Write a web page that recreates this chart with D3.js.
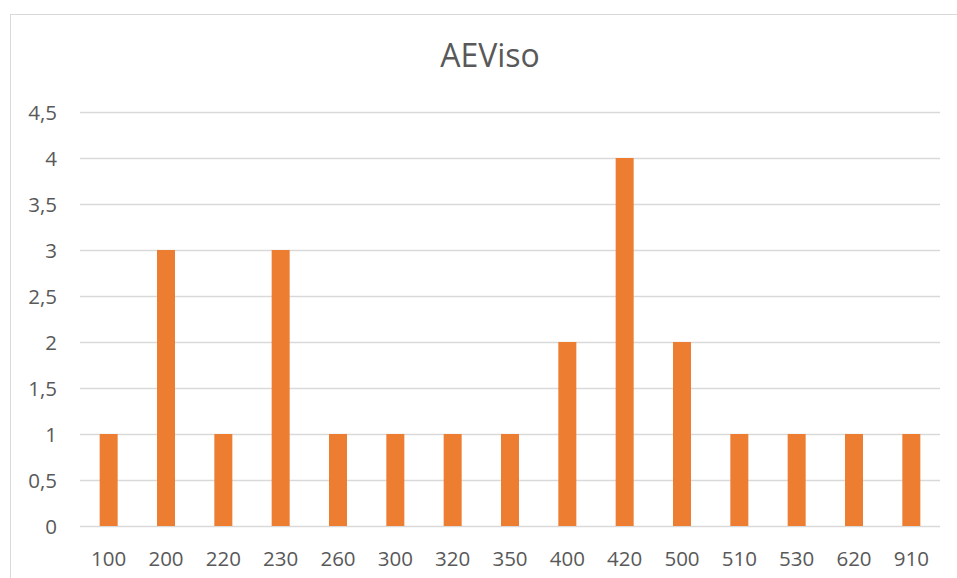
<!DOCTYPE html>
<html>
<head>
<meta charset="utf-8">
<script src="https://cdn.jsdelivr.net/npm/d3@7"></script>
<style>
  html, body { margin: 0; padding: 0; background: #fff; }
  svg { display: block; }
  text { font-family: "Open Sans", "Noto Sans", sans-serif; fill: #595959; }
</style>
</head>
<body>
<svg id="chart" width="957" height="578"></svg>
<script>
// Category labels and counts
const categories = ["100", "200", "220", "230", "260", "300", "320", "350", "400", "420", "500", "510", "530", "620", "910"];
const counts = [1, 3, 1, 3, 1, 1, 1, 1, 2, 4, 2, 1, 1, 1, 1];
const yTicks = [0, 0.5, 1, 1.5, 2, 2.5, 3, 3.5, 4, 4.5];
const chartTitle = "AEViso";

const svg = d3.select("#chart");

// Outer frame of the chart area
svg.append("rect")
  .attr("x", 10.5).attr("y", 14.5)
  .attr("width", 980).attr("height", 600)
  .attr("fill", "#fff").attr("stroke", "#d9d9d9").attr("stroke-width", 1);

const plot = { left: 80, right: 940, top: 112, bottom: 526 };

const x = d3.scaleBand()
  .domain(categories)
  .range([plot.left, plot.right])
  .paddingInner(0.686)
  .paddingOuter(0.343);

const y = d3.scaleLinear()
  .domain([0, 4.5])
  .range([plot.bottom, plot.top]);

// Horizontal gridlines
svg.append("g")
  .selectAll("line")
  .data(yTicks)
  .join("line")
  .attr("x1", plot.left).attr("x2", plot.right)
  .attr("y1", d => Math.round(y(d)) + 0.5)
  .attr("y2", d => Math.round(y(d)) + 0.5)
  .attr("stroke", "#d9d9d9").attr("stroke-width", 1.5);

// Bars
svg.append("g")
  .selectAll("rect")
  .data(categories.map((c, i) => ({ c, v: counts[i] })))
  .join("rect")
  .attr("x", d => x(d.c))
  .attr("width", x.bandwidth())
  .attr("y", d => y(d.v))
  .attr("height", d => y(0) - y(d.v))
  .attr("fill", "#ed7d31");

// Y axis labels (comma decimal separator)
const fmt = d => String(d).replace(".", ",");
const yAxis = d3.axisLeft(y).tickValues(yTicks).tickFormat(fmt).tickSize(0).tickPadding(0);
const gy = svg.append("g").attr("transform", "translate(57,0)").call(yAxis);
gy.select(".domain").remove();
gy.selectAll("text")
  .attr("font-size", 20.5)
  .attr("font-family", null)
  .attr("fill", "#595959")
  .attr("dy", "0.36em");

// X axis labels
const xAxis = d3.axisBottom(x).tickSize(0).tickPadding(0);
const gx = svg.append("g").attr("transform", `translate(0,${plot.bottom})`).call(xAxis);
gx.select(".domain").remove();
gx.selectAll("text")
  .attr("font-size", 20.5)
  .attr("font-family", null)
  .attr("fill", "#595959")
  .attr("y", 40)
  .attr("dy", null);

// Title
svg.append("text")
  .attr("x", 490).attr("y", 67)
  .attr("text-anchor", "middle")
  .attr("font-size", 32)
  .text(chartTitle);
</script>
</body>
</html>
